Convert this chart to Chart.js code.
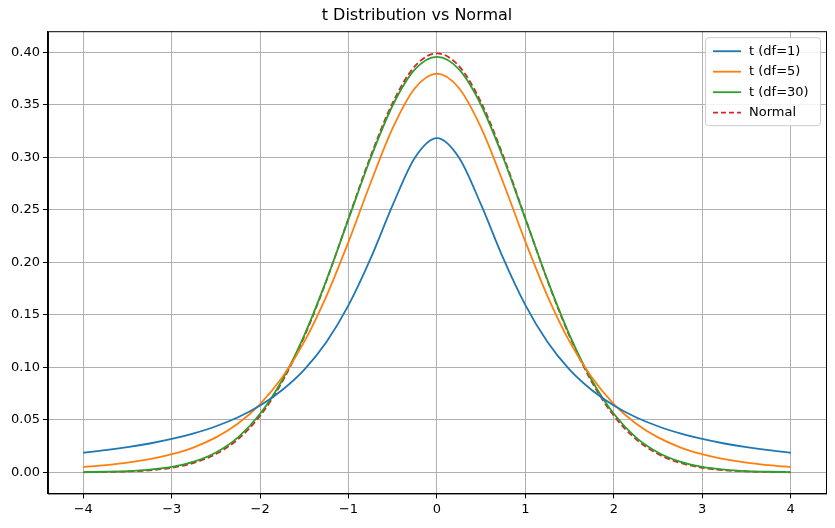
<!DOCTYPE html>
<html><head><meta charset="utf-8">
<script src="https://cdn.jsdelivr.net/npm/chart.js@4"></script>
<style>html,body{margin:0;background:#fff}#w{width:835px;height:528px}</style>
</head><body><div id="w"><canvas id="c"></canvas></div>
<script>
const xs=[-4,-3.75,-3.5,-3.25,-3,-2.75,-2.5,-2.25,-2,-1.75,-1.5,-1.25,-1,-0.75,-0.5,-0.25,0,0.25,0.5,0.75,1,1.25,1.5,1.75,2,2.25,2.5,2.75,3,3.25,3.5,3.75,4];
const tDf1=[0.0187,0.0211,0.0240,0.0275,0.0318,0.0372,0.0439,0.0525,0.0637,0.0785,0.0979,0.1242,0.1592,0.2037,0.2546,0.2996,0.3183,0.2996,0.2546,0.2037,0.1592,0.1242,0.0979,0.0785,0.0637,0.0525,0.0439,0.0372,0.0318,0.0275,0.0240,0.0211,0.0187];
const tDf5=[0.0051,0.0069,0.0092,0.0126,0.0173,0.0239,0.0333,0.0466,0.0651,0.0905,0.1245,0.1679,0.2197,0.2757,0.3279,0.3657,0.3796,0.3657,0.3279,0.2757,0.2197,0.1679,0.1245,0.0905,0.0651,0.0466,0.0333,0.0239,0.0173,0.0126,0.0092,0.0069,0.0051];
const tDf30=[0.0003,0.0006,0.0012,0.0026,0.0052,0.0102,0.0190,0.0334,0.0558,0.0880,0.1307,0.1830,0.2413,0.2993,0.3495,0.3836,0.3956,0.3836,0.3495,0.2993,0.2413,0.1830,0.1307,0.0880,0.0558,0.0334,0.0190,0.0102,0.0052,0.0026,0.0012,0.0006,0.0003];
const normal=[0.0001,0.0004,0.0009,0.0020,0.0044,0.0091,0.0175,0.0317,0.0540,0.0863,0.1295,0.1826,0.2420,0.3011,0.3521,0.3867,0.3989,0.3867,0.3521,0.3011,0.2420,0.1826,0.1295,0.0863,0.0540,0.0317,0.0175,0.0091,0.0044,0.0020,0.0009,0.0004,0.0001];
const xTicks=[-4,-3,-2,-1,0,1,2,3,4];
const yTicks=[0,0.05,0.1,0.15,0.2,0.25,0.3,0.35,0.4];
const names=['t (df=1)','t (df=5)','t (df=30)','Normal'];
const colors=['#1f77b4','#ff7f0e','#2ca02c','#d62728'];
const series=[tDf1,tDf5,tDf30,normal];
const F='"DejaVu Sans", sans-serif';
const legendPlugin={id:'lg',afterDraw(ch){const c=ch.ctx,a=ch.chartArea;
c.save();c.strokeStyle='#000';c.lineWidth=1;c.strokeRect(a.left+0.5,a.top+0.5,a.right-a.left,a.bottom-a.top);
const w=115,h=88,x=a.right-w-6,y=a.top+6;
c.fillStyle='rgba(255,255,255,0.85)';c.strokeStyle='#ccc';
c.beginPath();c.roundRect(x+0.5,y+0.5,w,h,3);c.fill();c.stroke();
c.font='13px '+F;c.textBaseline='middle';
names.forEach((n,i)=>{const yy=y+14+i*20.5;c.strokeStyle=colors[i];c.lineWidth=1.8;c.setLineDash(i==3?[5,3]:[]);
c.beginPath();c.moveTo(x+8,yy);c.lineTo(x+36,yy);c.stroke();c.setLineDash([]);c.fillStyle='#000';c.fillText(n,x+44,yy);});
c.restore();}};
new Chart(document.getElementById('c'),{type:'line',
data:{datasets:series.map((s,i)=>({label:names[i],data:xs.map((x,j)=>({x,y:s[j]})),borderColor:colors[i],borderWidth:1.8,pointRadius:0,tension:0.4,cubicInterpolationMode:'monotone',borderDash:i==3?[6,3]:[],fill:false}))},
options:{responsive:true,maintainAspectRatio:false,animation:false,
layout:{padding:{left:8,right:9,top:0,bottom:8}},
plugins:{legend:{display:false},tooltip:{enabled:false},
title:{display:true,text:'t Distribution vs Normal',color:'#000',font:{family:F,size:16,weight:'normal'},padding:{top:6,bottom:6}}},
scales:{x:{type:'linear',min:-4.4,max:4.4,afterBuildTicks:s=>{s.ticks=xTicks.map(v=>({value:v}))},
ticks:{color:'#000',font:{family:F,size:13},callback:v=>String(v).replace('-','\u2212'),maxRotation:0},
grid:{color:'#b0b0b0',tickLength:5,tickColor:'#000'},border:{color:'#000'}},
y:{min:-0.02,max:0.42,afterBuildTicks:s=>{s.ticks=yTicks.map(v=>({value:v}))},
ticks:{color:'#000',font:{family:F,size:13},callback:v=>v.toFixed(2)},
grid:{color:'#b0b0b0',tickLength:5,tickColor:'#000'},border:{color:'#000'}}}},
plugins:[legendPlugin]});
</script></body></html>
